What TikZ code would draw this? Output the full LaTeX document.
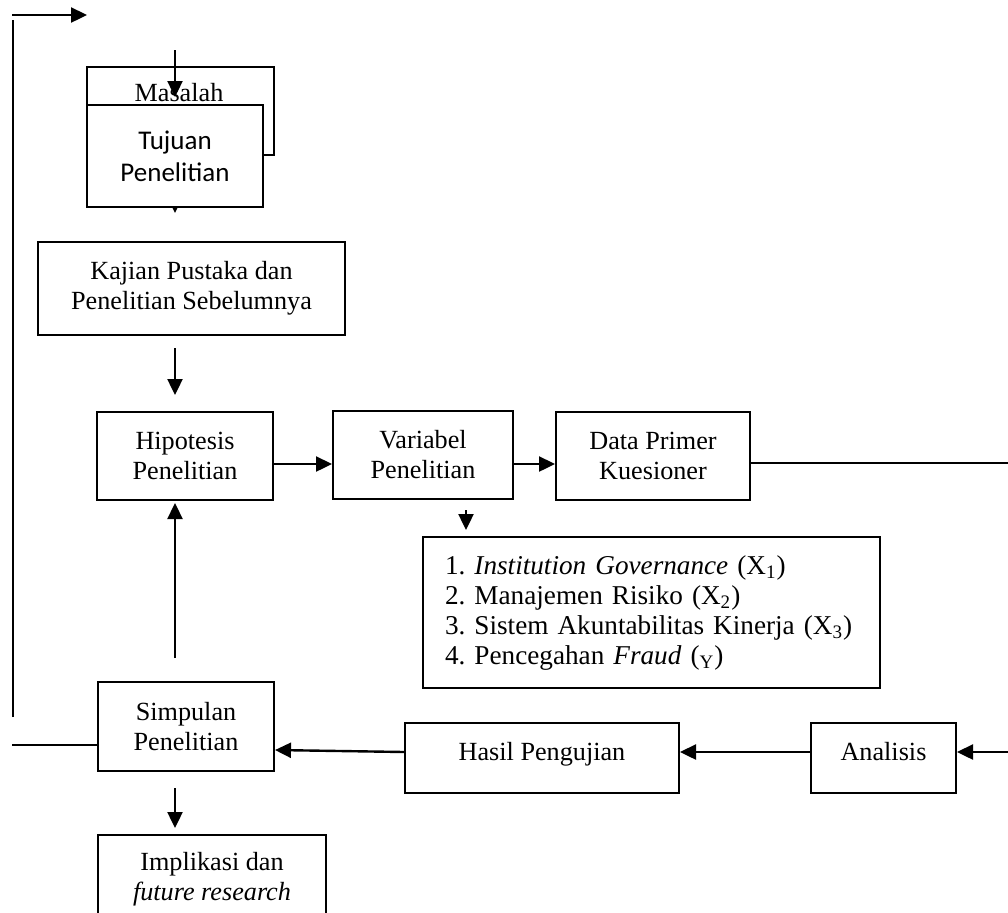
\documentclass[tikz,border=0pt]{standalone}
\usepackage{fontspec}
\setmainfont{Liberation Serif}
\newfontfamily\carlito{Carlito}
\usetikzlibrary{arrows.meta}
\newcommand\fs{\fontsize{13.1}{15}\selectfont}
\newcommand\lfs{\fontsize{13.6}{15}\selectfont\frenchspacing}
\newcommand\tj{\carlito\fontsize{13.5}{16}\selectfont}
\begin{document}
\begin{tikzpicture}[x=0.5pt,y=-0.5pt,
  box/.style={draw, line width=1pt, fill=white, inner sep=0pt, align=center, font=\fs},
  arr/.style={line width=1.2pt, -{Triangle[length=8pt,width=7.5pt]}},
  ln/.style={line width=1.2pt}]
\useasboundingbox (0,0) rectangle (1008,912);
\clip (0,0) rectangle (1008,912);

% free ends
\coordinate (l1) at (12,745);
\coordinate (l2) at (13,717);
\coordinate (l3) at (13,20);
\coordinate (l4) at (12,15);
\coordinate (l5) at (87,15);
\coordinate (m1) at (175,50);
\coordinate (m2) at (175,97);
\coordinate (t1) at (175,180);
\coordinate (t2) at (175,213);
\coordinate (k1) at (175,348);
\coordinate (k2) at (175,395);
\coordinate (v1) at (466,510);
\coordinate (v2) at (466,530);
\coordinate (s1) at (175,658);
\coordinate (s2) at (175,503);
\coordinate (s3) at (175,788);
\coordinate (s4) at (175,828);
\coordinate (r1) at (1010,463);
\coordinate (r2) at (1010,752);

% Masalah / Tujuan
\node[box, minimum width=93.5pt, minimum height=44pt] (masalah) at (180.5,111) {};
\node[font=\fs, inner sep=0pt] (mastext) at (179,93) {Masalah};
\draw[arr] (t1) -- (t2);
\node[box, font=\tj, minimum width=88pt, minimum height=51pt] (tujuan) at (175,156) {Tujuan\\Penelitian};
\draw[arr] (m1) -- (m2);

% Kajian
\node[box, minimum width=153.5pt, minimum height=46.5pt] (kajian) at (191.5,288.5) {Kajian Pustaka dan\\Penelitian Sebelumnya};
\draw[arr] (k1) -- (k2);

% middle row
\node[box, minimum width=88pt, minimum height=44pt] (hip) at (185,456) {Hipotesis\\Penelitian};
\node[box, minimum width=90pt, minimum height=44pt] (var) at (423,455) {Variabel\\Penelitian};
\node[box, minimum width=97pt, minimum height=44pt] (data) at (653,456) {Data Primer\\Kuesioner};
\draw[arr] ([yshift=-4pt]hip.east) -- ([yshift=-4.5pt]var.west);
\draw[arr] ([yshift=-4.5pt]var.east) -- ([yshift=-4pt]data.west);
\draw[ln] ([yshift=-3.5pt]data.east) -- (r1);
\draw[arr] (v1) -- (v2);

% variable list
\node[box, font=\lfs, minimum width=228.5pt, minimum height=75.5pt, align=left, text width=206.5pt, inner xsep=11pt] (list) at (651.5,612.5)
 {1. \textit{Institution Governance} (X\textsubscript{1})\\
  2. Manajemen Risiko (X\textsubscript{2})\\
  3. Sistem Akuntabilitas Kinerja (X\textsubscript{3})\\
  4. Pencegahan \textit{Fraud} (\textsubscript{Y})};

% bottom row
\node[box, minimum width=88pt, minimum height=44.5pt] (simp) at (186,726.5) {Simpulan\\Penelitian};
\node[box, minimum width=137pt, minimum height=35pt, text height=9pt, text depth=6.3pt] (hasil) at (542,758) {Hasil Pengujian};
\node[box, minimum width=72.5pt, minimum height=35pt, text height=9pt, text depth=6.3pt] (anal) at (883.5,758) {Analisis};
\draw[arr] (r2) -- ([yshift=3pt]anal.east);
\draw[arr] ([yshift=3pt]anal.west) -- ([yshift=3pt]hasil.east);
\draw[arr] ([yshift=3pt]hasil.west) -- ([yshift=-11.75pt]simp.east);
\draw[arr] (s1) -- (s2);
\draw[ln] ([yshift=-9.25pt]simp.west) -- (l1);
\draw[ln] (l2) -- (l3);
\draw[arr] (l4) -- (l5);
\draw[arr] (s3) -- (s4);

% Implikasi
\node[box, minimum width=114pt, minimum height=44pt] (impl) at (212,879) {Implikasi dan\\\textit{future research}};
\end{tikzpicture}
\end{document}
